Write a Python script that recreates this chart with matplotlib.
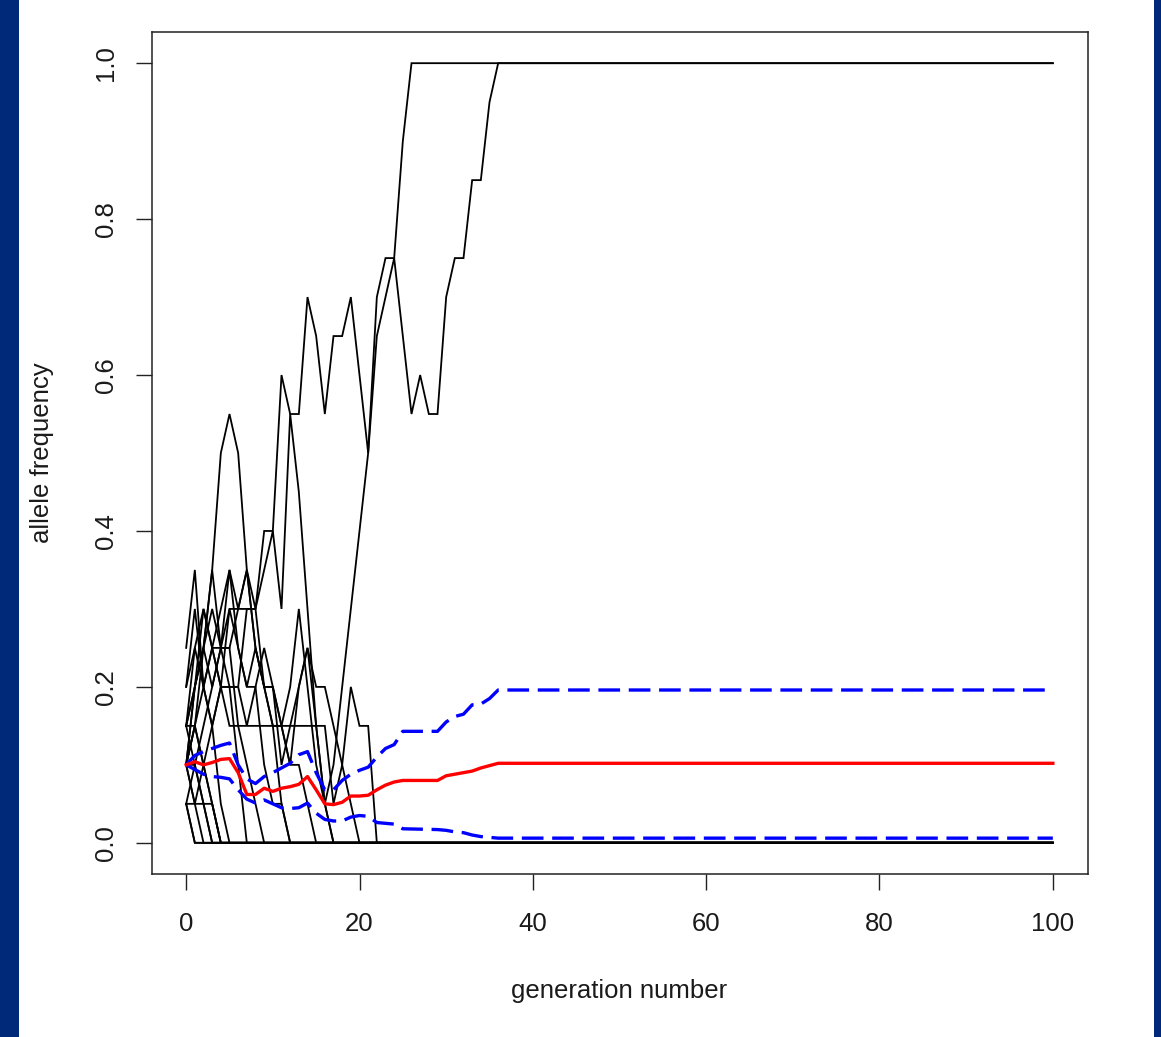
import matplotlib
matplotlib.use("Agg")
import matplotlib.pyplot as plt
from matplotlib.patches import Rectangle

# ---------------- data ----------------
last_gen = 100

# allele-frequency trajectories, one list per replicate, starting at generation 0
traj_fix_a = [0.15, 0.25, 0.3, 0.25, 0.2, 0.3, 0.25, 0.2, 0.25, 0.2, 0.15, 0.15, 0.2, 0.3,
              0.2, 0.1, 0.05, 0.1, 0.2, 0.3, 0.4, 0.5, 0.65, 0.7, 0.75, 0.9, 1.0]
traj_fix_b = [0.15, 0.2, 0.3, 0.25, 0.3, 0.35, 0.3, 0.35, 0.3, 0.4, 0.4, 0.6, 0.55, 0.55,
              0.7, 0.65, 0.55, 0.65, 0.65, 0.7, 0.6, 0.5, 0.7, 0.75, 0.75, 0.65, 0.55, 0.6,
              0.55, 0.55, 0.7, 0.75, 0.75, 0.85, 0.85, 0.95, 1.0]
traj_l01 = [0.05, 0.0]
traj_l02 = [0.1, 0.05, 0.0]
traj_l03 = [0.05, 0.05, 0.05, 0.0]
traj_l04 = [0.15, 0.15, 0.1, 0.05, 0.0]
traj_l05 = [0.25, 0.35, 0.2, 0.15, 0.05, 0.0]
traj_l06 = [0.1, 0.2, 0.25, 0.35, 0.25, 0.2, 0.1, 0.0]
traj_l07 = [0.1, 0.15, 0.25, 0.35, 0.5, 0.55, 0.5, 0.35, 0.25, 0.2, 0.15, 0.05, 0.0]
traj_l08 = [0.15, 0.2, 0.25, 0.2, 0.25, 0.35, 0.25, 0.2, 0.2, 0.1, 0.05, 0.05, 0.0]
traj_l09 = [0.05, 0.1, 0.15, 0.2, 0.25, 0.3, 0.3, 0.35, 0.25, 0.2, 0.2, 0.15, 0.1, 0.1,
            0.05, 0.0]
traj_l10 = [0.1, 0.2, 0.25, 0.3, 0.25, 0.25, 0.3, 0.3, 0.3, 0.35, 0.4, 0.3, 0.55, 0.45,
            0.3, 0.15, 0.05, 0.0]
traj_l11 = [0.1, 0.15, 0.2, 0.25, 0.2, 0.15, 0.15, 0.15, 0.15, 0.15, 0.15, 0.15, 0.15,
            0.15, 0.15, 0.15, 0.15, 0.05, 0.1, 0.2, 0.15, 0.15, 0.0]
traj_l12 = [0.1, 0.05, 0.1, 0.15, 0.2, 0.2, 0.2, 0.3, 0.3, 0.2, 0.2, 0.1, 0.15, 0.2, 0.25,
            0.2, 0.2, 0.15, 0.1, 0.05, 0.0]
traj_l13 = [0.2, 0.3, 0.2, 0.25, 0.25, 0.25, 0.15, 0.1, 0.05, 0.0]
traj_l14 = [0.15, 0.1, 0.05, 0.05, 0.0]
traj_l15 = [0.05, 0.0]
traj_l16 = [0.1, 0.1, 0.05, 0.0]
traj_l17 = [0.2, 0.25, 0.2, 0.15, 0.2, 0.2, 0.2, 0.15, 0.2, 0.25, 0.2, 0.15, 0.1, 0.2,
            0.25, 0.15, 0.05, 0.0]
traj_l18 = [0.1, 0.15, 0.1, 0.05, 0.0]

# mean across replicates (red) and the band around it (blue dashed)
mean_gens = [0, 1, 2, 3, 4, 5, 6, 7, 8, 9, 10, 11, 12, 13, 14, 15, 16, 17, 18, 19, 20,
             21, 22, 23, 24, 25, 29, 30, 31, 32, 33, 34, 35, 36, 100]
mean_vals = [0.100, 0.104, 0.100, 0.103, 0.107, 0.108, 0.090, 0.062, 0.062, 0.070, 0.066,
             0.070, 0.072, 0.075, 0.085, 0.068, 0.050, 0.049, 0.052, 0.060, 0.060, 0.061,
             0.068, 0.074, 0.078, 0.080, 0.080, 0.086, 0.088, 0.090, 0.092, 0.096, 0.099,
             0.102, 0.102]
upper_vals = [0.100, 0.112, 0.117, 0.121, 0.125, 0.128, 0.100, 0.082, 0.076, 0.085, 0.090,
              0.096, 0.102, 0.113, 0.117, 0.090, 0.068, 0.068, 0.080, 0.088, 0.093, 0.097,
              0.110, 0.121, 0.126, 0.143, 0.143, 0.155, 0.162, 0.165, 0.177, 0.178, 0.185,
              0.196, 0.196]
lower_vals = [0.100, 0.094, 0.088, 0.085, 0.084, 0.082, 0.068, 0.056, 0.051, 0.055, 0.050,
              0.045, 0.044, 0.045, 0.051, 0.038, 0.030, 0.028, 0.028, 0.033, 0.035, 0.034,
              0.026, 0.025, 0.024, 0.018, 0.017, 0.016, 0.014, 0.013, 0.010, 0.008, 0.007,
              0.006, 0.006]

x_ticks = [0, 20, 40, 60, 80, 100]
y_ticks = [0.0, 0.2, 0.4, 0.6, 0.8, 1.0]
x_label = "generation number"
y_label = "allele frequency"

trajectories = [traj_fix_a, traj_fix_b, traj_l01, traj_l02, traj_l03, traj_l04, traj_l05,
                traj_l06, traj_l07, traj_l08, traj_l09, traj_l10, traj_l11, traj_l12,
                traj_l13, traj_l14, traj_l15, traj_l16, traj_l17, traj_l18]

# ---------------- drawing ----------------
W, H, DPI = 1161, 1037, 100
fig = plt.figure(figsize=(W / DPI, H / DPI), dpi=DPI)
fig.patch.set_facecolor("white")

navy = "#01297a"
fig.add_artist(Rectangle((0, 0), 19 / W, 1, transform=fig.transFigure,
                         facecolor=navy, edgecolor="none", zorder=0))
fig.add_artist(Rectangle((1154 / W, 0), 7 / W, 1, transform=fig.transFigure,
                         facecolor=navy, edgecolor="none", zorder=0))

ax_left, ax_right, ax_top, ax_bottom = 151.5, 1087.5, 32, 874
ax = fig.add_axes([ax_left / W, 1 - ax_bottom / H, (ax_right - ax_left) / W,
                   (ax_bottom - ax_top) / H])

for tr in trajectories:
    gens = list(range(len(tr))) + [last_gen]
    vals = tr + [tr[-1]]
    ax.plot(gens, vals, color="black", lw=1.3, solid_joinstyle="miter", zorder=2)

ax.plot(mean_gens, mean_vals, color="#ff0000", lw=2.4, zorder=4)
ax.plot(mean_gens, upper_vals, color="#0000ff", lw=2.4, dashes=(6.5, 2.6),
        dash_capstyle="butt", zorder=3)
ax.plot(mean_gens, lower_vals, color="#0000ff", lw=2.4, dashes=(6.5, 2.6),
        dash_capstyle="butt", zorder=3)

ax.set_xlim(-4, 104)
ax.set_ylim(-0.04, 1.04)

font = "Liberation Sans"
txt_color = "#1a1a1a"
ax.set_xticks(x_ticks)
ax.set_xticklabels([str(v) for v in x_ticks], fontsize=18.5, family=font, color=txt_color)
ax.set_yticks(y_ticks)
ax.set_yticklabels([f"{v:.1f}" for v in y_ticks], fontsize=18.5, family=font,
                   color=txt_color, rotation=90, va="center")
ax.tick_params(axis="both", direction="out", length=11.5, width=1.0, color="#222222")
ax.tick_params(axis="x", pad=16)
ax.tick_params(axis="y", pad=12.5)
for sp in ax.spines.values():
    sp.set_linewidth(1.1)
    sp.set_color("#222222")

ax.set_xlabel(x_label, fontsize=18.5, family=font, color=txt_color, labelpad=31)
ax.set_ylabel(y_label, fontsize=18.5, family=font, color=txt_color, labelpad=29)

fig.savefig("out.png", dpi=DPI, facecolor="white")
